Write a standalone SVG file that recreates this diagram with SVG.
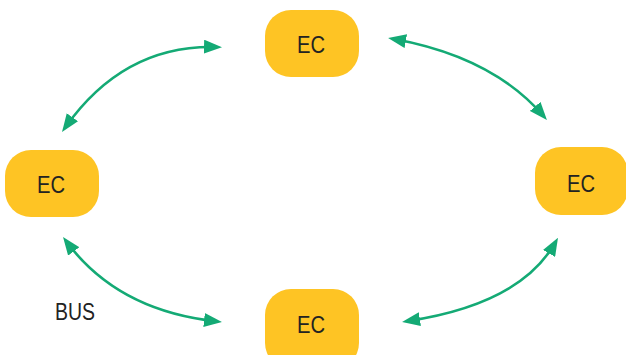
<svg xmlns="http://www.w3.org/2000/svg" width="626" height="355" viewBox="0 0 626 355">
<style>
.node{fill:#FEC424;}
.lbl{font-family:"Liberation Sans",Arial,sans-serif;font-size:24px;fill:#222;text-anchor:middle;}
.conn{fill:none;stroke:#14AA75;stroke-width:2.6;}
</style>
<defs>
<marker id="ah" markerUnits="userSpaceOnUse" markerWidth="18" markerHeight="14" refX="12" refY="7" orient="auto-start-reverse" viewBox="0 0 18 14">
<path d="M0,0 L18,7 L0,14 z" fill="#14AA75"/>
</marker>
</defs>
<rect width="626" height="355" fill="#fff"/>
<g id="connectors">
<path class="conn" d="M65.5,127 Q124,44.5 216,47" marker-start="url(#ah)" marker-end="url(#ah)"/>
<path class="conn" d="M394,39 Q492.5,57 543,115.5" marker-start="url(#ah)" marker-end="url(#ah)"/>
<path class="conn" d="M66.6,241.8 Q117.5,310.5 216,321.3" marker-start="url(#ah)" marker-end="url(#ah)"/>
<path class="conn" d="M408,321 Q520,304 555,243" marker-start="url(#ah)" marker-end="url(#ah)"/>
</g>
<g id="ec-top">
<rect class="node" x="265" y="10" width="94" height="67" rx="26"/>
<text class="lbl" x="311" y="53" textLength="28" lengthAdjust="spacingAndGlyphs">EC</text>
</g>
<g id="ec-left">
<rect class="node" x="5" y="150" width="94" height="67" rx="26"/>
<text class="lbl" x="51" y="193" textLength="28" lengthAdjust="spacingAndGlyphs">EC</text>
</g>
<g id="ec-right">
<rect class="node" x="535" y="147" width="93" height="68" rx="26"/>
<text class="lbl" x="581" y="192" textLength="28" lengthAdjust="spacingAndGlyphs">EC</text>
</g>
<g id="ec-bottom">
<rect class="node" x="265" y="289" width="94" height="80" rx="26"/>
<text class="lbl" x="311" y="333" textLength="28" lengthAdjust="spacingAndGlyphs">EC</text>
</g>
<g id="bus-label">
<text class="lbl" x="75" y="320" textLength="40" lengthAdjust="spacingAndGlyphs">BUS</text>
</g>
</svg>
